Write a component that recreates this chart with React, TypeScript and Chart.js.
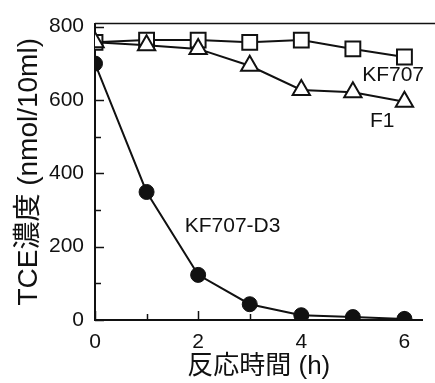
import React, { useEffect, useRef } from 'react';
import { Chart, registerables } from 'chart.js';

Chart.register(...registerables);

const hours = [0, 1, 2, 3, 4, 5, 6];
const kf707 = [757, 763, 763, 757, 763, 739, 717];
const f1 = [757, 749, 739, 693, 627, 621, 595];
const kf707d3 = [699, 349, 123, 43, 13, 8, 3];
const xTicks = [0, 2, 4, 6];
const xMinorTicks = [1, 3, 5];
const yTicks = [0, 200, 400, 600, 800];
const yMinorTicks = [100, 300, 500, 700];
const seriesNames = ['KF707', 'F1', 'KF707-D3'];
const nameAnchorsX = [5.18, 5.33, 1.74];
const nameAnchorsY = [667, 541, 256];

const latin = "'Liberation Sans', Arial, sans-serif";
const mixed = "'Liberation Sans', 'Noto Sans CJK JP', sans-serif";

const framePlugin = {
  id: 'frame',
  beforeDatasetsDraw(chart: any) {
    const { ctx, chartArea, scales } = chart;
    const xs = scales.x;
    const ys = scales.y;
    ctx.save();
    ctx.strokeStyle = '#111';
    ctx.lineWidth = 1.5;
    ctx.beginPath();
    ctx.moveTo(chartArea.left, chartArea.top);
    ctx.lineTo(chart.width, chartArea.top);
    ctx.stroke();
    const b = chartArea.bottom;
    const l = chartArea.left;
    const drawX = (vals: number[], len: number) => {
      vals.forEach((v) => {
        const px = Math.round(xs.getPixelForValue(v)) + 0.5;
        ctx.beginPath();
        ctx.moveTo(px, b);
        ctx.lineTo(px, b - len);
        ctx.stroke();
      });
    };
    const drawY = (vals: number[], len: number) => {
      vals.forEach((v) => {
        const py = Math.round(ys.getPixelForValue(v)) + 0.5;
        ctx.beginPath();
        ctx.moveTo(l, py);
        ctx.lineTo(l + len, py);
        ctx.stroke();
      });
    };
    drawX(xTicks, 9);
    drawX(xMinorTicks, 6);
    drawY(yTicks, 9);
    drawY(yMinorTicks, 6);
    ctx.restore();
  },
  afterDatasetsDraw(chart: any) {
    const { ctx, scales } = chart;
    ctx.save();
    ctx.fillStyle = '#111';
    ctx.font = `21px ${latin}`;
    ctx.textAlign = 'left';
    ctx.textBaseline = 'middle';
    seriesNames.forEach((name, i) => {
      ctx.fillText(
        name,
        scales.x.getPixelForValue(nameAnchorsX[i]),
        scales.y.getPixelForValue(nameAnchorsY[i])
      );
    });
    ctx.restore();
  },
};

export default function App() {
  const ref = useRef<HTMLCanvasElement | null>(null);

  useEffect(() => {
    document.body.style.margin = '0';
    const canvas = ref.current;
    if (!canvas) return;
    const toPts = (ys: number[]) => hours.map((h, i) => ({ x: h, y: ys[i] }));
    const chart = new Chart(canvas, {
      type: 'line',
      data: {
        datasets: [
          {
            label: 'KF707-D3',
            data: toPts(kf707d3),
            borderColor: '#111',
            borderWidth: 2,
            pointStyle: 'circle',
            pointRadius: 7.5,
            pointBackgroundColor: '#111',
            pointBorderColor: '#111',
            pointBorderWidth: 1,
          },
          {
            label: 'F1',
            data: toPts(f1),
            borderColor: '#111',
            borderWidth: 2,
            pointStyle: 'triangle',
            pointRadius: 10,
            pointBackgroundColor: '#fff',
            pointBorderColor: '#111',
            pointBorderWidth: 2,
          },
          {
            label: 'KF707',
            data: toPts(kf707),
            borderColor: '#111',
            borderWidth: 2,
            pointStyle: 'rect',
            pointRadius: 10.5,
            pointBackgroundColor: '#fff',
            pointBorderColor: '#111',
            pointBorderWidth: 2,
          },
        ],
      },
      options: {
        responsive: false,
        animation: false,
        devicePixelRatio: 1,
        layout: { padding: { top: 17, right: 1, left: 0, bottom: 0 } },
        plugins: { legend: { display: false }, tooltip: { enabled: false } },
        scales: {
          x: {
            type: 'linear',
            min: 0,
            max: 6.35,
            afterBuildTicks: (s: any) => {
              s.ticks = xTicks.map((v) => ({ value: v }));
            },
            afterFit: (s: any) => {
              s.height = 63;
            },
            grid: { display: false, drawTicks: false },
            border: { display: true, color: '#111', width: 2 },
            ticks: {
              color: '#111',
              font: { family: latin, size: 21 },
              padding: 10,
              maxRotation: 0,
              autoSkip: false,
            },
            title: {
              display: true,
              text: '反応時間 (h)',
              color: '#111',
              font: { family: mixed, size: 26 },
              padding: { top: 0, bottom: 1 },
            },
          },
          y: {
            type: 'linear',
            min: 0,
            max: 808,
            afterBuildTicks: (s: any) => {
              s.ticks = yTicks.map((v) => ({ value: v }));
            },
            afterFit: (s: any) => {
              s.width = 95;
            },
            grid: { display: false, drawTicks: false },
            border: { display: true, color: '#111', width: 2 },
            ticks: {
              color: '#111',
              font: { family: latin, size: 21 },
              padding: 11,
              autoSkip: false,
            },
            title: {
              display: true,
              text: 'TCE濃度 (nmol/10ml)',
              color: '#111',
              font: { family: mixed, size: 28 },
              padding: { top: 12, bottom: 0 },
            },
          },
        },
      },
      plugins: [framePlugin],
    });
    return () => chart.destroy();
  }, []);

  return (
    <canvas
      ref={ref}
      width={435}
      height={383}
      style={{ display: 'block', width: 435, height: 383 }}
    />
  );
}
